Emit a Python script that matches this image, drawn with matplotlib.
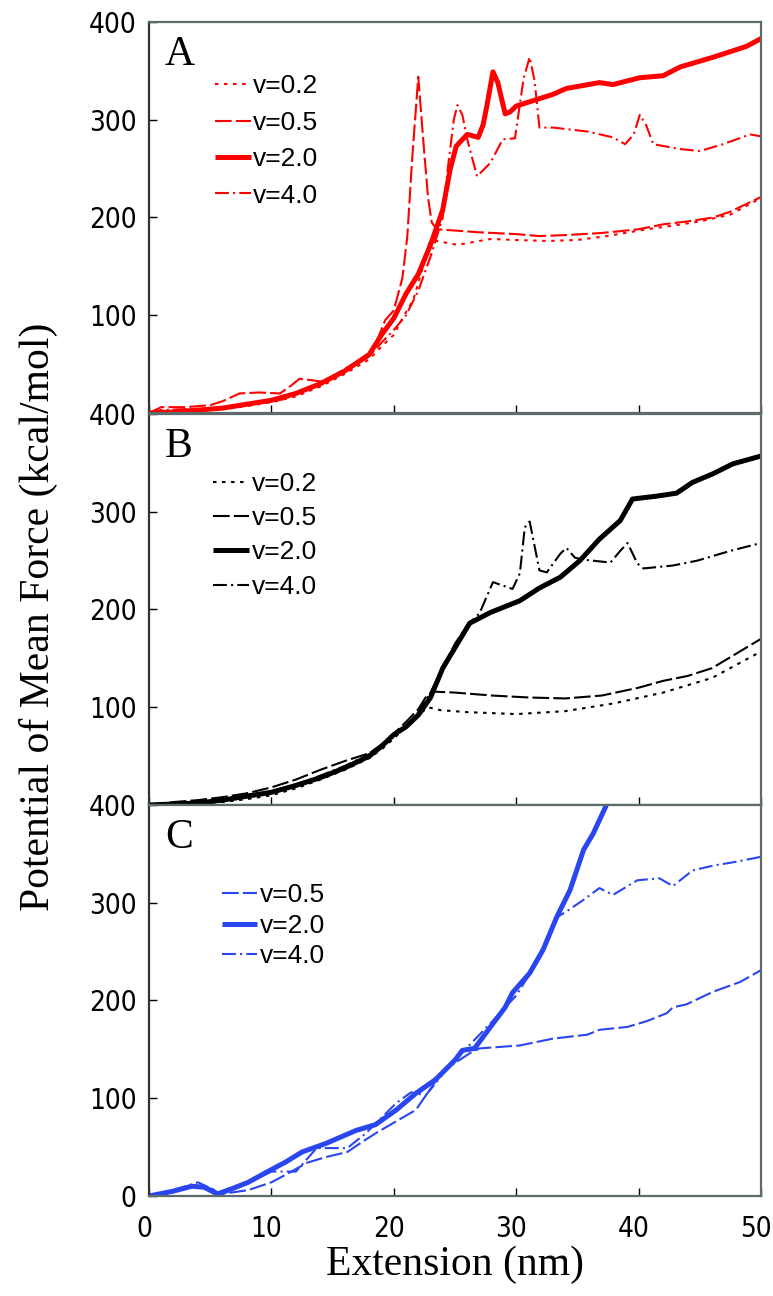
import matplotlib
matplotlib.use("Agg")
import matplotlib.pyplot as plt
from matplotlib import font_manager
from matplotlib.font_manager import FontProperties
from matplotlib.transforms import ScaledTranslation

# Panel A (red)
a02_x = [0, 2, 4, 6, 8, 10, 12, 14, 16, 18, 19, 20, 20.8, 21.6, 22.4, 22.9, 23.5, 25.2, 27.9, 30, 32.5, 35, 37.4, 40.7, 43, 45, 47.5, 50]
a02_y = [0, 2, 3, 4, 7, 11, 17, 27, 40, 55, 68, 80, 99, 116, 150, 174, 176, 172, 178, 177, 176, 177, 181, 188, 192, 196, 203, 220]
a05_x = [0, 1, 3, 5, 6, 7.4, 9, 10.7, 11.5, 12.3, 13, 14.2, 16, 18, 18.5, 19.3, 20, 20.7, 21.1, 21.5, 22.0, 22.4, 22.8, 23.1, 23.5, 26.8, 30, 31.9, 34, 36.8, 38.5, 40, 42, 44, 46.1, 47.5, 50]
a05_y = [0, 6, 6, 8, 12, 20, 21, 20, 27, 35, 34, 32, 45, 60, 70, 95, 105, 138, 180, 260, 344, 280, 220, 195, 188, 185, 183, 181, 182, 184, 186, 188, 193, 196, 200, 206, 221]
a20_x = [0, 2, 4, 6, 8, 10, 12, 14, 16, 18, 19, 20, 21, 22, 23, 24, 24.6, 25.1, 26, 26.9, 27.3, 27.6, 28.1, 28.5, 29.1, 29.5, 30, 33, 34.1, 36.8, 37.9, 40.1, 42, 43.4, 46.1, 48.8, 50]
a20_y = [0, 1, 3, 5, 9, 13, 20, 30, 43, 60, 80, 97, 122, 142, 172, 208, 249, 273, 285, 282, 295, 314, 349, 338, 306, 308, 314, 326, 332, 338, 336, 343, 345, 354, 364, 375, 383]
a40_x = [0, 1, 3, 5, 7, 9, 11, 13, 15, 17, 18, 19, 20, 21, 22, 23, 24, 24.4, 24.9, 25.2, 25.6, 26.0, 26.8, 27.9, 28.9, 29.9, 30.6, 31.1, 31.5, 31.9, 33, 35.8, 37.9, 38.9, 39.6, 40.1, 40.6, 41.2, 43.4, 45, 46.9, 49.1, 50]
a40_y = [0, 3, 4, 3, 6, 10, 14, 25, 37, 50, 58, 72, 85, 100, 125, 160, 200, 249, 300, 315, 305, 280, 242, 256, 280, 281, 342, 364, 340, 292, 292, 288, 282, 275, 285, 305, 295, 275, 270, 268, 275, 285, 283]

# Panel B (black)
b02_x = [0, 2, 4, 6, 8, 10, 12, 14, 16, 18, 19, 20, 21, 22, 22.8, 23.8, 26, 30, 34, 38, 42, 46, 50]
b02_y = [0, 1, 2, 3, 6, 10, 17, 26, 36, 48, 57, 68, 80, 92, 100, 97, 95, 93, 96, 104, 115, 130, 157]
b05_x = [0, 2, 4, 6, 8, 10, 12, 14, 16, 18, 19, 20, 21, 22, 22.7, 23.2, 25, 28, 31, 34, 37, 40, 42, 44, 46, 48, 50]
b05_y = [0, 3, 5, 8, 12, 18, 26, 36, 45, 53, 62, 73, 85, 98, 112, 116, 115, 112, 110, 109, 112, 120, 127, 132, 140, 155, 170]
b20_x = [0, 2, 4, 6, 8, 10, 12, 14, 16, 18, 19, 20, 21, 22, 23, 24, 26.2, 27.9, 30.3, 31.9, 33.6, 35.2, 36.8, 38.5, 39.5, 41.5, 43.1, 44.4, 46.1, 47.7, 50]
b20_y = [0, 1, 2, 5, 9, 13, 20, 28, 38, 50, 60, 72, 80, 92, 110, 140, 186, 197, 209, 222, 233, 250, 272, 291, 313, 316, 319, 330, 339, 349, 357]
b40_x = [0, 2, 4, 6, 8, 10, 12, 14, 16, 18, 19, 20, 21, 22, 23, 24, 25, 26, 27, 28.1, 29.7, 30.3, 30.7, 31.1, 31.9, 32.5, 33.6, 34.1, 34.8, 35.5, 37.7, 38.5, 39.1, 39.9, 40.4, 42.8, 44.8, 47.5, 50]
b40_y = [0, 2, 3, 5, 10, 14, 21, 30, 40, 52, 60, 70, 80, 95, 115, 140, 165, 184, 196, 228, 221, 237, 284, 290, 240, 238, 257, 263, 253, 251, 248, 260, 268, 247, 242, 245, 250, 260, 268]

# Panel C (blue)
c05_x = [0, 2, 3.5, 4.5, 5.2, 5.8, 7, 8.1, 10, 11.5, 12.9, 14.5, 16.2, 17.5, 18.5, 20, 21.8, 23.4, 24.5, 26.2, 27, 30.3, 33, 35.8, 36.8, 39.1, 40.7, 42.3, 42.8, 43.9, 46.1, 48.3, 50]
c05_y = [0, 5, 9, 10, 7, 2, 4, 6, 14, 24, 34, 40, 45, 56, 64, 75, 88, 117, 132, 146, 151, 154, 161, 165, 170, 173, 179, 187, 193, 196, 209, 219, 231]
c20_x = [0, 2, 3.5, 4.5, 5.6, 6.5, 8.1, 10, 11.2, 12.5, 14.5, 16.9, 18.5, 20.2, 21.8, 23.4, 25, 25.6, 26.6, 27.9, 29.1, 29.7, 31.1, 32.2, 33.3, 34.4, 35.5, 36.3, 37.3, 37.8]
c20_y = [0, 5, 10, 9, 2, 6, 14, 27, 35, 45, 54, 67, 73, 88, 105, 119, 139, 149, 151, 173, 193, 208, 228, 252, 285, 313, 354, 371, 398, 415]
c40_x = [0, 2, 4, 5.7, 7, 8.5, 10, 12, 13.7, 16.2, 17.7, 20.2, 21.4, 22.6, 23.4, 24.5, 26, 28, 30, 32, 33.3, 34.1, 35.5, 36.8, 37.9, 39.9, 41.7, 42.8, 44.4, 46.1, 48, 50]
c40_y = [0, 6, 14, 4, 10, 16, 25, 25, 49, 49, 64, 95, 106, 103, 115, 133, 152, 178, 205, 245, 285, 291, 303, 315, 308, 323, 325, 317, 333, 338, 342, 347]

x_ticks = [0, 10, 20, 30, 40, 50]
y_ticks = [0, 100, 200, 300, 400]

RED = "#ff0000"
BLACK = "#000000"
BLUE = "#2a46f0"
SPINE = "#5c6b6b"

plt.rcParams["lines.scale_dashes"] = False


def narrow_tick_font():
    # prefer a narrow sans for the tick numbers, else plain Liberation Sans
    for fam in ["Liberation Sans Narrow", "Arial Narrow"]:
        try:
            path = font_manager.findfont(fam, fallback_to_default=False)
            return FontProperties(fname=path, size=22)
        except ValueError:
            pass
    for f in font_manager.fontManager.ttflist:
        if f.name == "DejaVu Sans" and "Condensed" in f.fname and "Bold" not in f.fname \
                and "Oblique" not in f.fname:
            return FontProperties(fname=f.fname, size=20)
    return FontProperties(family="Liberation Sans", size=20)


tick_prop = narrow_tick_font()
serif = "Liberation Serif"

styles = {
    "v=0.2": dict(lw=1.5, ls=(0, (2.5, 4))),
    "v=0.5": dict(lw=1.5, ls=(0, (12, 3))),
    "v=2.0": dict(lw=3.6, ls="-"),
    "v=4.0": dict(lw=1.5, ls=(0, (10, 3, 1.5, 3))),
}

panels = [
    ("A", RED, [("v=0.2", a02_x, a02_y), ("v=0.5", a05_x, a05_y),
                ("v=2.0", a20_x, a20_y), ("v=4.0", a40_x, a40_y)],
     (0.108, 0.866), 0.47),
    ("B", BLACK, [("v=0.2", b02_x, b02_y), ("v=0.5", b05_x, b05_y),
                  ("v=2.0", b20_x, b20_y), ("v=4.0", b40_x, b40_y)],
     (0.105, 0.852), 0.39),
    ("C", BLUE, [("v=0.5", c05_x, c05_y), ("v=2.0", c20_x, c20_y),
                 ("v=4.0", c40_x, c40_y)],
     (0.119, 0.800), 0.25),
]

fig = plt.figure(figsize=(7.73, 12.96), dpi=100)
left, width, height = 149 / 773, 612 / 773, 0.3017
bottoms = [1 - 413 / 1296, 1 - 805 / 1296, 1 - 1196 / 1296]

for i, (letter, color, curves, leg_xy, spacing) in enumerate(panels):
    ax = fig.add_axes([left, bottoms[i], width, height])
    for label, xs, ys in curves:
        ax.plot(xs, ys, color=color, label=label, solid_capstyle="butt",
                dash_capstyle="butt", **styles[label])
    ax.set_xlim(0, 50)
    ax.set_ylim(0, 400)
    ax.set_xticks(x_ticks)
    ax.set_yticks(y_ticks)
    ylabels = [str(v) for v in y_ticks]
    if i < 2:
        ylabels[0] = ""
        ax.set_xticklabels([])
    ax.set_yticklabels(ylabels)
    ax.tick_params(direction="in", length=6, width=1.0, color="black")
    ax.tick_params(axis="y", pad=9)
    ax.tick_params(axis="x", pad=14)
    for lbl in ax.get_xticklabels() + ax.get_yticklabels():
        lbl.set_fontproperties(tick_prop)
    for side, sp in ax.spines.items():
        sp.set_color(SPINE)
        sp.set_linewidth(1.6)
    ax.spines["left"].set_color("#333333")

    ax.text(0.026, 0.89, letter, transform=ax.transAxes, fontsize=30,
            family=serif, va="baseline", ha="left")

    ax.legend(loc="upper left", bbox_to_anchor=leg_xy, frameon=False,
              borderaxespad=0, borderpad=0, handlelength=1.35,
              handletextpad=0.1, labelspacing=spacing,
              prop={"family": "Liberation Sans", "size": 19})

    if i == 2:
        shift = ScaledTranslation(-5 / 100, 0, fig.dpi_scale_trans)
        for lbl in ax.get_xticklabels():
            lbl.set_transform(lbl.get_transform() + shift)

fig.text(38 / 773, 1 - 617 / 1296, "Potential of Mean Force (kcal/mol)",
         rotation=90, ha="center", va="center", family=serif, fontsize=30)
fig.text(455 / 773, 1 - 1265 / 1296, "Extension (nm)", ha="center",
         va="center", family=serif, fontsize=30)

fig.savefig("out.png", dpi=100)
